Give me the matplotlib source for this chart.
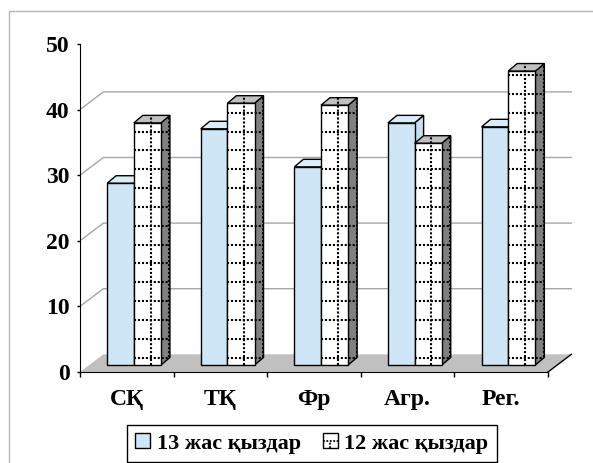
import matplotlib
matplotlib.use('Agg')
import numpy as np
import matplotlib.pyplot as plt
from matplotlib.patches import Polygon, Patch, Rectangle
from matplotlib.lines import Line2D
from matplotlib.legend_handler import HandlerPatch

# ---------------------------------------------------------------
# data
# ---------------------------------------------------------------
categories = ['СҚ', 'ТҚ', 'Фр', 'Агр.', 'Рег.']
girls_13 = [27.7, 36.0, 30.2, 36.9, 36.3]
girls_12 = [36.9, 39.9, 39.6, 33.8, 44.8]
series_labels = ['13 жас қыздар', '12 жас қыздар']
y_ticks = [0, 10, 20, 30, 40, 50]

# ---------------------------------------------------------------
# fake-3D geometry (data units)
# ---------------------------------------------------------------
WALL_DX, WALL_DY = 0.25, 2.7      # depth offset of back wall
BASE = 1.07                       # bar base sits a bit back on the floor
BAR_DX, BAR_DY = 0.096, 1.15      # depth of a single bar
BLUE_OFF, BLUE_W = -0.21, 0.285
DOT_OFF, DOT_W = 0.075, 0.29

FONT = ['Liberation Serif', 'DejaVu Serif']
W, H = 593, 463

fig = plt.figure(figsize=(W / 100, H / 100), dpi=100)
# axes placed so that x=-0.5 -> px 80, x=4.5 -> px 548, y=0 -> py 372, y=50 -> py 44
ax = fig.add_axes([80 / W, (H - 372) / H, (5.3 * 93.6) / W, 328 / H])
ax.set_xlim(-0.5, 4.8)
ax.set_ylim(0, 50)

x = np.arange(len(categories))
n = len(categories)

# floor
floor = Polygon([(-0.5, 0), (n - 0.5, 0), (n - 0.5 + WALL_DX, WALL_DY),
                 (-0.5 + WALL_DX, WALL_DY)], closed=True,
                facecolor='#c0c0c0', edgecolor='none', zorder=1)
ax.add_patch(floor)
ax.plot([n - 0.5, n - 0.5 + WALL_DX], [0, WALL_DY], color='black', lw=1, zorder=1.5)

# back wall gridlines (with the diagonal on the side wall)
for v in y_ticks[1:-1]:
    ax.plot([-0.5, -0.5 + WALL_DX, n - 0.5 + WALL_DX], [v, v + WALL_DY, v + WALL_DY],
            color='#a6a6a6', lw=1, zorder=1)


def draw_bar(x0, w, h, front, top, side):
    b, t = BASE, BASE + h
    x1 = x0 + w
    faces = [
        [(x1, b), (x1 + BAR_DX, b + BAR_DY), (x1 + BAR_DX, t + BAR_DY), (x1, t)],
        [(x0, t), (x1, t), (x1 + BAR_DX, t + BAR_DY), (x0 + BAR_DX, t + BAR_DY)],
        [(x0, b), (x1, b), (x1, t), (x0, t)],
    ]
    for pts, col in zip(faces, [side, top, front]):
        ax.add_patch(Polygon(pts, closed=True, facecolor=col, edgecolor='black',
                             lw=1, zorder=3, joinstyle='miter'))
    outline = Polygon([(x0, b), (x1, b), (x1 + BAR_DX, b + BAR_DY),
                       (x1 + BAR_DX, t + BAR_DY), (x0 + BAR_DX, t + BAR_DY), (x0, t)],
                      closed=True, facecolor='none', edgecolor='none', zorder=3)
    ax.add_patch(outline)
    return outline, (x0, x1 + BAR_DX, b, t + BAR_DY)


dot_style = dict(color='black', lw=1.5, linestyle=(0, (1, 0.9)), zorder=4)
row_levels = np.arange(2.2, 50, 2.87)

for i in range(n):
    draw_bar(x[i] + BLUE_OFF, BLUE_W, girls_13[i], '#cfe6f6', '#dcedf9', '#c6e0f2')
    outline, (xa, xb, ya, yb) = draw_bar(x[i] + DOT_OFF, DOT_W, girls_12[i],
                                         'white', '#c0c0c0', '#808080')
    # dotted grid fill, aligned to the whole picture
    for v in row_levels:
        if ya <= v <= yb:
            ln, = ax.plot([xa, xb], [v, v], **dot_style)
            ln.set_clip_path(outline)
    for k in (-1, 0, 1):
        xv = x[i] + 0.255 + 0.2 * k
        ln, = ax.plot([xv, xv], [ya, yb], **dot_style)
        ln.set_clip_path(outline)

# axes styling
for s in ['top', 'right']:
    ax.spines[s].set_visible(False)
ax.spines['left'].set_bounds(0, 50)
ax.spines['bottom'].set_bounds(-0.5, n - 0.5)
ax.spines['left'].set_zorder(5)
ax.spines['bottom'].set_zorder(5)

ax.set_yticks(y_ticks)
ax.tick_params(axis='y', direction='out', length=2.5, width=1, pad=5)
ax.set_xticks(np.arange(-0.5, n, 1.0))
ax.set_xticklabels([])
ax.set_xticks(x, minor=True)
ax.set_xticklabels(categories, minor=True)
ax.tick_params(axis='x', which='major', direction='out', length=3.6, width=1)
ax.tick_params(axis='x', which='minor', length=0, pad=12)
for lab in ax.get_yticklabels() + ax.get_xticklabels(minor=True):
    lab.set_fontfamily(FONT)
    lab.set_fontweight('bold')
    lab.set_fontsize(17)


class DottedBoxHandler(HandlerPatch):
    """legend key: white square with a small dotted cross"""
    def create_artists(self, legend, orig_handle, xdescent, ydescent,
                       width, height, fontsize, trans):
        box = Rectangle((-xdescent, -ydescent), width, height, facecolor='white',
                        edgecolor='black', lw=1, transform=trans)
        cx, cy = -xdescent + width / 2, -ydescent + height / 2
        h_line = Line2D([-xdescent, -xdescent + width], [cy, cy], color='black',
                        lw=1.3, linestyle=(0, (1, 0.9)), transform=trans)
        v_line = Line2D([cx, cx], [-ydescent, cy], color='black',
                        lw=1.3, linestyle=(0, (1, 0.9)), transform=trans)
        return [box, h_line, v_line]


# legend
handles = [Patch(facecolor='#cfe6f6', edgecolor='black', lw=1),
           Patch(facecolor='white', edgecolor='black', lw=1)]
leg = fig.legend(handles, series_labels, loc='upper left', ncol=2,
                 bbox_to_anchor=(127 / W, 1 - 425 / H), frameon=True, fancybox=False,
                 edgecolor='black', framealpha=1, borderpad=0.38,
                 handlelength=0.66, handleheight=0.66, handletextpad=0.3,
                 columnspacing=1.0, borderaxespad=0,
                 handler_map={handles[1]: DottedBoxHandler()},
                 prop=dict(family=FONT, weight='bold', size=16))
leg.get_frame().set_linewidth(1)

# outer chart frame
fig.add_artist(Rectangle((9 / W, -0.05), 1.2, (H - 11) / H + 0.05,
                         transform=fig.transFigure, fill=False,
                         edgecolor='#b4b4b4', lw=1))

fig.savefig('out.png', dpi=100)
